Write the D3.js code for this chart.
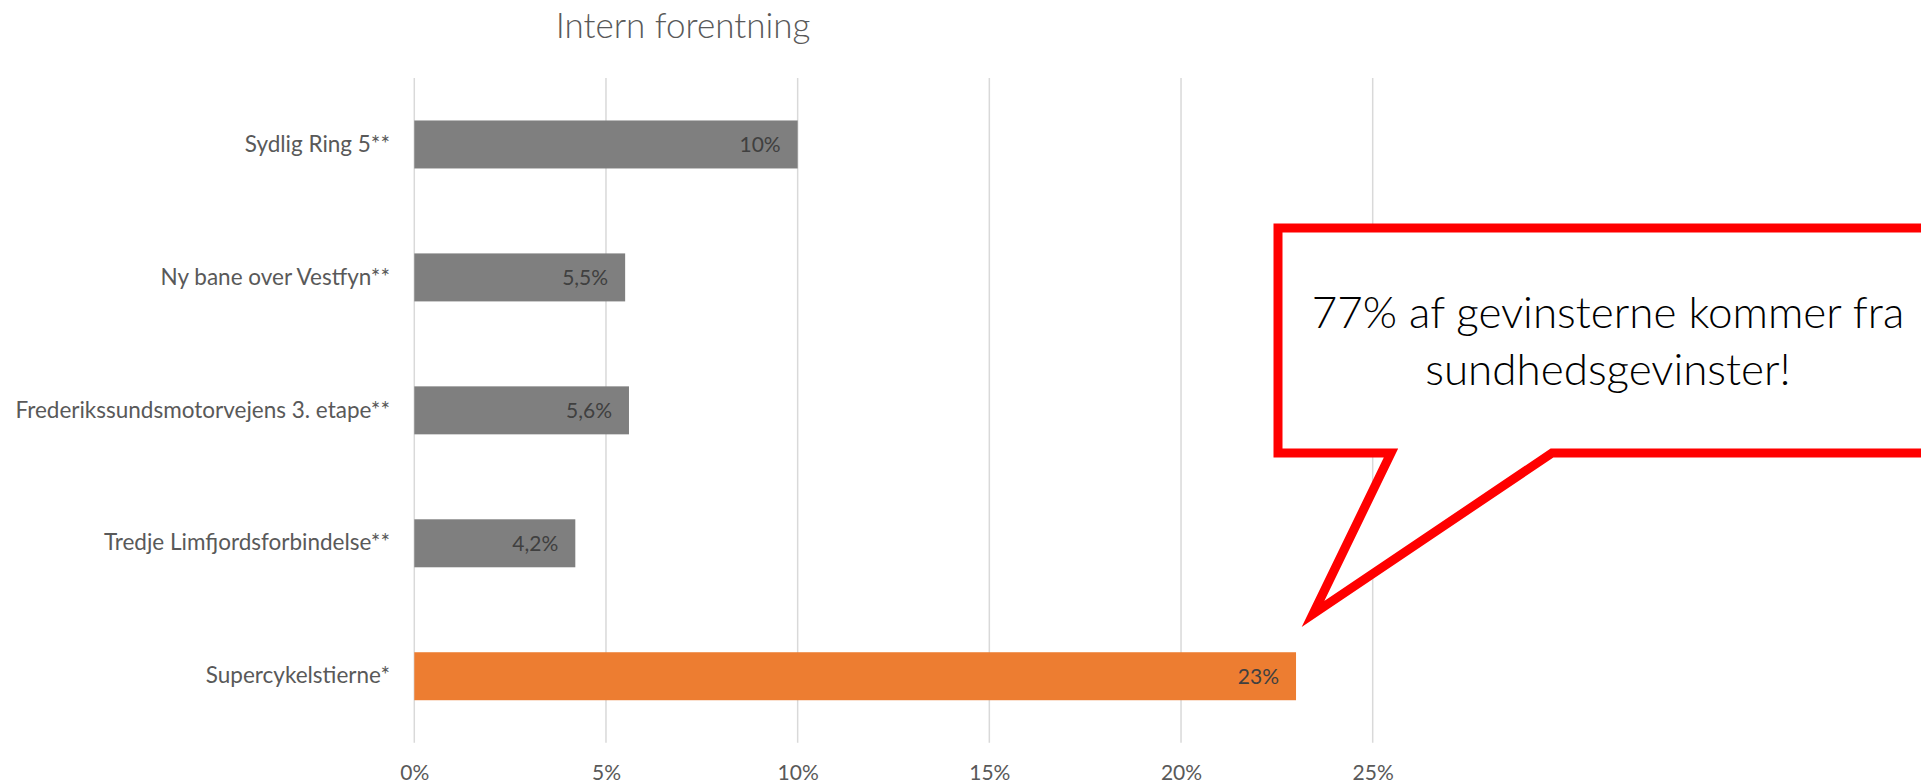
<!DOCTYPE html>
<html>
<head>
<meta charset="utf-8">
<script src="https://cdn.jsdelivr.net/npm/d3@7"></script>
<style>
  body { margin: 0; background: #fff; }
  text { font-family: Lato, "Open Sans", sans-serif; }
</style>
</head>
<body>
<div id="chart"></div>
<script>
// data, top to bottom as in the chart
var categories = [
  "Sydlig Ring 5**",
  "Ny bane over Vestfyn**",
  "Frederikssundsmotorvejens 3. etape**",
  "Tredje Limfjordsforbindelse**",
  "Supercykelstierne*"
];
var values = [0.10, 0.055, 0.056, 0.042, 0.23];
var highlight = [false, false, false, false, true];
var xTicks = [0, 0.05, 0.10, 0.15, 0.20, 0.25];
var title = "Intern forentning";
var calloutLines = ["77% af gevinsterne kommer fra", "sundhedsgevinster!"];

var w = 1921, h = 783;

var svg = d3.select("body div#chart").append("svg")
    .attr("width", w)
    .attr("height", h);

var x = d3.scaleLinear().domain([0, 0.25]).range([414.3, 1372.7]);
var y = d3.scaleBand().domain(categories).range([78, 742.7])
    .paddingInner(0.639).paddingOuter(0.3195);

var da = d3.formatLocale({decimal: ",", thousands: ".", grouping: [3], currency: ["", " kr"]});
var pct = da.format(".1~%");
var tickFmt = da.format(".0%");

// title
svg.append("text")
    .attr("x", 683).attr("y", 38)
    .attr("text-anchor", "middle")
    .attr("font-size", 35)
    .attr("font-weight", 300)
    .attr("fill", "#595959")
    .text(title);

// gridlines
svg.append("g").selectAll("line")
    .data(xTicks).enter().append("line")
    .attr("x1", function(d) { return x(d); })
    .attr("x2", function(d) { return x(d); })
    .attr("y1", y.range()[0])
    .attr("y2", y.range()[1])
    .attr("stroke", "#d9d9d9")
    .attr("stroke-width", 1.5);

// x axis labels
var xAxis = svg.append("g")
    .attr("transform", "translate(0," + 765 + ")")
    .call(d3.axisBottom(x).tickValues(xTicks).tickFormat(tickFmt).tickSize(0).tickPadding(0));
xAxis.select(".domain").remove();
xAxis.selectAll("text")
    .attr("font-family", "Lato, 'Open Sans', sans-serif")
    .attr("font-size", 21)
    .attr("fill", "#595959");

// y axis labels
var yAxis = svg.append("g")
    .attr("transform", "translate(" + 390 + ",0)")
    .call(d3.axisLeft(y).tickSize(0).tickPadding(0));
yAxis.select(".domain").remove();
yAxis.selectAll("text")
    .attr("font-family", "Lato, 'Open Sans', sans-serif")
    .attr("font-size", 22.5)
    .attr("fill", "#595959");

// bars
var rows = categories.map(function(c, i) { return {cat: c, v: values[i], hl: highlight[i]}; });

svg.append("g").selectAll("rect")
    .data(rows).enter().append("rect")
    .attr("x", x(0))
    .attr("y", function(d) { return y(d.cat); })
    .attr("width", function(d) { return x(d.v) - x(0); })
    .attr("height", y.bandwidth())
    .attr("fill", function(d) { return d.hl ? "#ed7d31" : "#7f7f7f"; });

svg.append("g").selectAll("text")
    .data(rows).enter().append("text")
    .attr("x", function(d) { return x(d.v) - 17; })
    .attr("y", function(d) { return y(d.cat) + y.bandwidth() / 2; })
    .attr("dy", "0.35em")
    .attr("text-anchor", "end")
    .attr("font-size", 21)
    .attr("fill", "#404040")
    .text(function(d) { return pct(d.v); });

// callout bubble
var bx0 = 1278, bx1 = 1940, by0 = 228, by1 = 453;
var tip = [1313, 614];
var bubble = [[bx0, by0], [bx1, by0], [bx1, by1], [1552, by1], tip, [1391, by1], [bx0, by1]];
svg.append("path")
    .attr("d", d3.line()(bubble) + "Z")
    .attr("fill", "#fff")
    .attr("stroke", "#ff0000")
    .attr("stroke-width", 9)
    .attr("stroke-linejoin", "miter")
    .attr("stroke-miterlimit", 10);

svg.append("g").selectAll("text")
    .data(calloutLines).enter().append("text")
    .attr("x", 1608)
    .attr("y", function(d, i) { return 328 + i * 57; })
    .attr("text-anchor", "middle")
    .attr("font-size", 44)
    .attr("font-weight", 300)
    .attr("fill", "#000")
    .text(function(d) { return d; });
</script>
</body>
</html>
